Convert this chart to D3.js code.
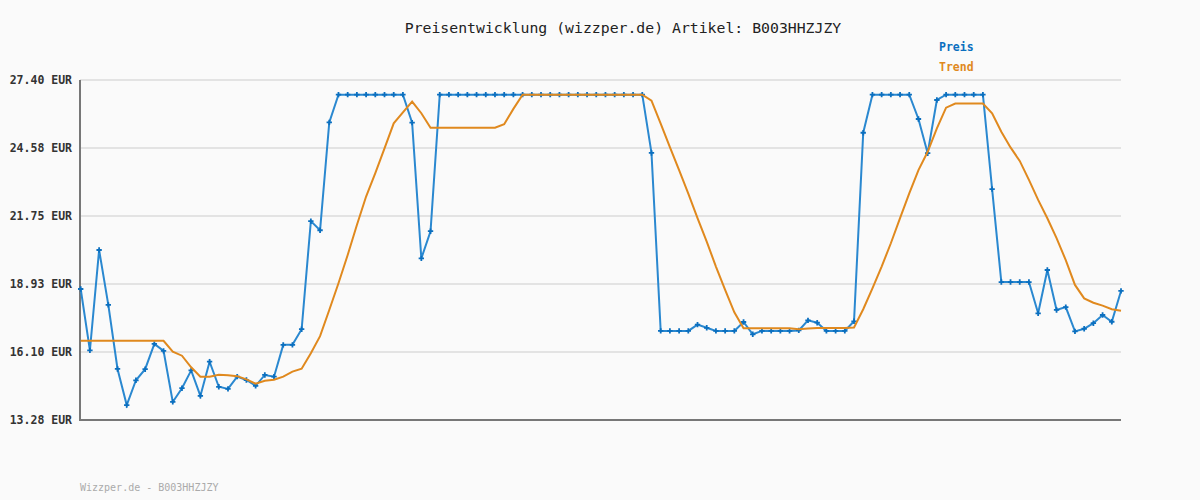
<!DOCTYPE html>
<html>
<head>
<meta charset="utf-8">
<script src="https://cdn.jsdelivr.net/npm/d3@7"></script>
<style>
  html, body { margin: 0; padding: 0; background: #fafafa; }
  svg { display: block; }
  text { font-family: "DejaVu Sans Mono", "Liberation Mono", monospace; }
</style>
</head>
<body>
<svg id="chart" width="1200" height="500"></svg>
<script>
// Preisverlauf
const preis = [
  18.72, 16.17, 20.34, 18.06, 15.40, 13.90, 14.93, 15.39, 16.44, 16.15,
  14.03, 14.60, 15.34, 14.28, 15.70, 14.66, 14.57, 15.08, 14.94, 14.70,
  15.15, 15.08, 16.40, 16.40, 17.05, 21.54, 21.16, 25.64, 26.79, 26.79,
  26.79, 26.79, 26.79, 26.79, 26.79, 26.79, 25.63, 19.99, 21.12, 26.79,
  26.79, 26.79, 26.79, 26.79, 26.79, 26.79, 26.79, 26.79, 26.79, 26.79,
  26.79, 26.79, 26.79, 26.79, 26.79, 26.79, 26.79, 26.79, 26.79, 26.79,
  26.79, 26.79, 24.37, 16.98, 16.98, 16.98, 16.98, 17.24, 17.11, 16.98,
  16.98, 16.98, 17.35, 16.84, 16.98, 16.98, 16.98, 16.98, 17.00, 17.42,
  17.32, 16.98, 16.98, 16.98, 17.38, 25.21, 26.79, 26.79, 26.79, 26.79,
  26.79, 25.78, 24.36, 26.57, 26.79, 26.79, 26.79, 26.79, 26.79, 22.87,
  19.01, 19.01, 19.01, 19.01, 17.71, 19.51, 17.85, 17.97, 16.96, 17.07,
  17.30, 17.64, 17.36, 18.64
];

const trend = [
  16.57, 16.57, 16.57, 16.57, 16.57, 16.57, 16.57, 16.57, 16.57, 16.57,
  16.12, 15.95, 15.47, 15.08, 15.08, 15.16, 15.14, 15.10, 14.97, 14.79,
  14.91, 14.95, 15.08, 15.29, 15.41, 16.05, 16.76, 17.85, 18.96, 20.13,
  21.38, 22.56, 23.53, 24.56, 25.60, 26.06, 26.50, 26.02, 25.42, 25.42,
  25.42, 25.42, 25.42, 25.42, 25.42, 25.42, 25.56, 26.20, 26.79, 26.79,
  26.79, 26.79, 26.79, 26.79, 26.79, 26.79, 26.79, 26.79, 26.79, 26.79,
  26.79, 26.79, 26.54, 25.59, 24.61, 23.66, 22.68, 21.66, 20.69, 19.65,
  18.68, 17.75, 17.09, 17.09, 17.09, 17.09, 17.09, 17.09, 17.05, 17.08,
  17.10, 17.10, 17.10, 17.10, 17.12, 17.88, 18.75, 19.65, 20.62, 21.66,
  22.69, 23.66, 24.42, 25.39, 26.25, 26.42, 26.42, 26.42, 26.42, 26.02,
  25.25, 24.60, 24.04, 23.25, 22.42, 21.66, 20.83, 19.92, 18.89, 18.33,
  18.15, 18.03, 17.88, 17.82
];

const yTicks = [13.28, 16.10, 18.93, 21.75, 24.58, 27.40];
const titel = 'Preisentwicklung (wizzper.de) Artikel: B003HHZJZY';
const legende = ['Preis', 'Trend'];
const fusszeile = 'Wizzper.de - B003HHZJZY';

const BLAU = '#2a88d0';
const BLAU_DUNKEL = '#0b6fbf';
const ORANGE = '#e0891e';

const svg = d3.select('#chart');

const x = d3.scaleLinear()
  .domain([0, preis.length - 1])
  .range([80.7, 1121]);

const y = d3.scaleLinear()
  .domain([yTicks[0], yTicks[yTicks.length - 1]])
  .range([420, 80]);

// Gitterlinien
svg.append('g')
  .selectAll('line')
  .data(yTicks.slice(1))
  .join('line')
  .attr('x1', 80)
  .attr('x2', 1121)
  .attr('y1', d => y(d))
  .attr('y2', d => y(d))
  .attr('stroke', '#e3e3e3')
  .attr('stroke-width', 2);

// y-Achse mit d3.axisLeft, nur Beschriftung
const yAxis = svg.append('g')
  .attr('transform', 'translate(80,0)')
  .call(d3.axisLeft(y).tickValues(yTicks).tickSize(0).tickPadding(8)
    .tickFormat(d => d3.format('.2f')(d) + ' EUR'));
yAxis.select('.domain').remove();
yAxis.selectAll('text')
  .attr('font-family', '"DejaVu Sans Mono", monospace')
  .attr('font-size', 11.5)
  .attr('font-weight', 'bold')
  .attr('fill', '#333');

// Achsenlinien
svg.append('path')
  .attr('d', `M80,80V420H1121`)
  .attr('fill', 'none')
  .attr('stroke', '#777')
  .attr('stroke-width', 2);

const line = d3.line()
  .x((d, i) => x(i))
  .y(d => y(d));

svg.append('path')
  .datum(preis)
  .attr('d', line)
  .attr('fill', 'none')
  .attr('stroke', BLAU)
  .attr('stroke-width', 2);

svg.append('g')
  .selectAll('path')
  .data(preis)
  .join('path')
  .attr('transform', (d, i) => `translate(${x(i)},${y(d)})`)
  .attr('d', d3.symbol(d3.symbolCross, 16))
  .attr('fill', BLAU_DUNKEL);

svg.append('path')
  .datum(trend)
  .attr('d', line)
  .attr('fill', 'none')
  .attr('stroke', ORANGE)
  .attr('stroke-width', 2);

// Titel
svg.append('text')
  .attr('x', 623)
  .attr('y', 33)
  .attr('text-anchor', 'middle')
  .attr('font-size', 14.8)
  .attr('fill', '#222')
  .text(titel);

// Legende
svg.append('g')
  .selectAll('text')
  .data(legende)
  .join('text')
  .attr('x', 939)
  .attr('y', (d, i) => 51 + i * 20)
  .attr('font-size', 11.5)
  .attr('font-weight', 'bold')
  .attr('fill', (d, i) => i === 0 ? BLAU_DUNKEL : ORANGE)
  .text(d => d);

// Fusszeile
svg.append('text')
  .attr('x', 80)
  .attr('y', 491)
  .attr('font-size', 10)
  .attr('fill', '#aaa')
  .text(fusszeile);
</script>
</body>
</html>
